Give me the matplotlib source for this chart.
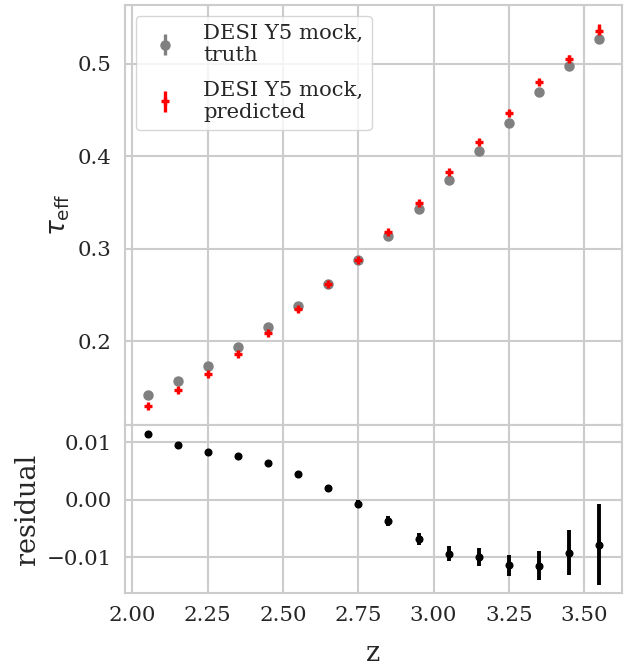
import numpy as np
import matplotlib
matplotlib.use("Agg")
import matplotlib.pyplot as plt
import seaborn as sns

# redshift bins
z = [2.05, 2.15, 2.25, 2.35, 2.45, 2.55, 2.65, 2.75,
     2.85, 2.95, 3.05, 3.15, 3.25, 3.35, 3.45, 3.55]

# tau_eff, truth and predicted
tau_true = [0.1416, 0.1571, 0.1729, 0.1934, 0.2158, 0.2385, 0.2623, 0.2876,
            0.3140, 0.3425, 0.3740, 0.4056, 0.4360, 0.4690, 0.4970, 0.5270]
tau_pred = [0.1304, 0.1474, 0.1641, 0.1857, 0.2088, 0.2343, 0.2613, 0.2876,
            0.3176, 0.3490, 0.3830, 0.4150, 0.4468, 0.4800, 0.5054, 0.5355]
tau_true_err = [0.0002, 0.0002, 0.0002, 0.0002, 0.0002, 0.0003, 0.0003, 0.0004,
                0.0005, 0.0006, 0.0008, 0.0010, 0.0012, 0.0016, 0.0025, 0.0045]
tau_pred_err = [0.0003, 0.0003, 0.0003, 0.0003, 0.0003, 0.0004, 0.0005, 0.0007,
                0.0008, 0.0010, 0.0013, 0.0016, 0.0018, 0.0025, 0.0039, 0.0071]

# residual
resid = [0.0114, 0.0095, 0.0083, 0.0076, 0.0064, 0.0045, 0.0021, -0.0008,
         -0.0037, -0.0068, -0.0094, -0.0100, -0.0114, -0.0115, -0.0092, -0.0078]
resid_err = [0.0003, 0.0003, 0.0003, 0.0003, 0.0003, 0.0004, 0.0005, 0.0007,
             0.0008, 0.0010, 0.0013, 0.0016, 0.0018, 0.0025, 0.0039, 0.0071]

sns.set_theme(style="whitegrid", font="serif", font_scale=1.4,
              rc={"grid.linewidth": 1.5, "axes.linewidth": 1.5})
plt.rcParams["font.family"] = ["DejaVu Serif"]

fig = plt.figure(figsize=(6.28, 6.66), dpi=100)
gs = fig.add_gridspec(2, 1, height_ratios=[2.5, 1], hspace=0,
                      left=0.199, right=0.990, top=0.9925, bottom=0.1096)
ax1 = fig.add_subplot(gs[0])
ax2 = fig.add_subplot(gs[1], sharex=ax1)

ax1.errorbar(z, tau_true, yerr=tau_true_err, fmt="o", color="gray", ms=6.5,
             elinewidth=2.4, label="DESI Y5 mock,\ntruth")
ax1.errorbar(z, tau_pred, yerr=tau_pred_err, fmt="+", color="red", ms=6,
             mew=2.4, elinewidth=2.4, label="DESI Y5 mock,\npredicted")
ax1.set_ylabel(r"$\tau_{\rm eff}$", fontsize=19)
ax1.set_yticks([0.2, 0.3, 0.4, 0.5])
ax1.legend(loc="upper left", fontsize=15.2, labelspacing=0.75)
ax1.tick_params(labelbottom=False)

ax2.errorbar(z, resid, yerr=resid_err, fmt="o", color="black", ms=4.8,
             elinewidth=2.8)
ax2.set_ylabel("residual", fontsize=19.5)
ax2.set_xlabel("z", fontsize=19.5, labelpad=11)
ax2.set_yticks([-0.01, 0.0, 0.01])
ax2.set_xticks([2.0, 2.25, 2.5, 2.75, 3.0, 3.25, 3.5])

fig.savefig("out.png", dpi=100)
